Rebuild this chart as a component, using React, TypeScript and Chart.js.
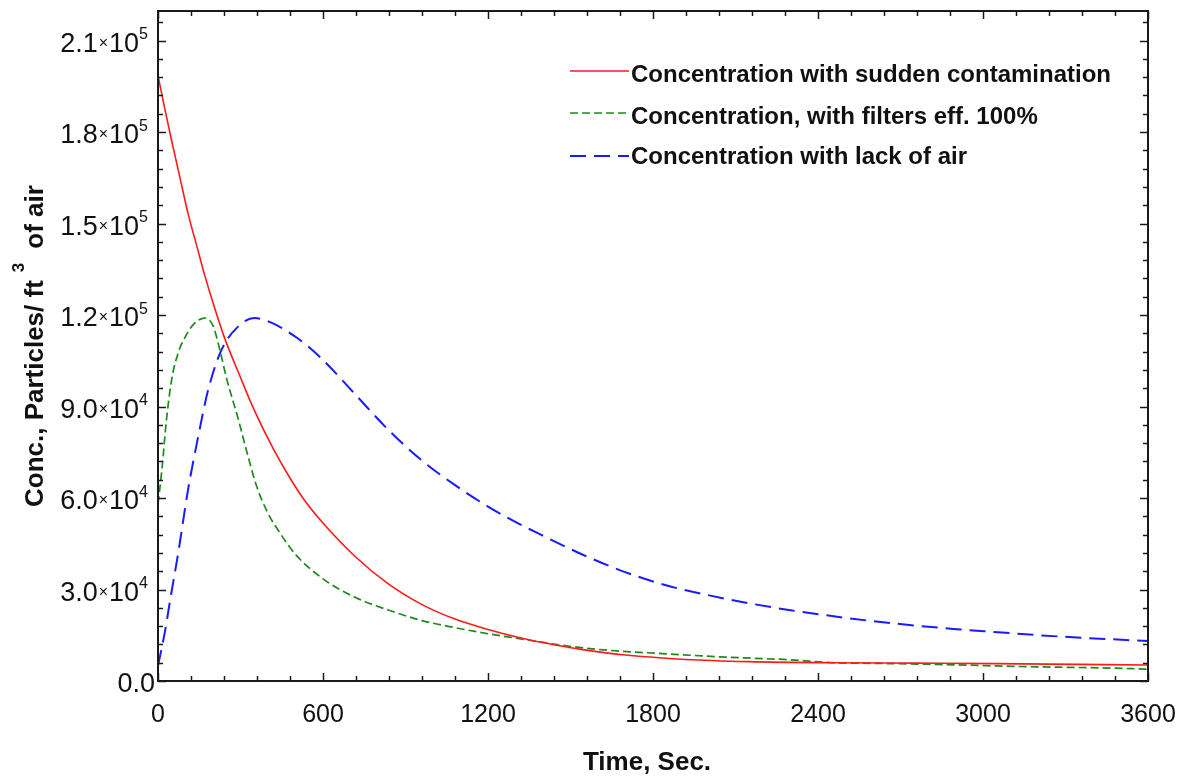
import { useEffect, useRef } from "react";
import { Chart, registerables } from "chart.js";

Chart.register(...registerables);

const seriesLabels = [
  "Concentration with sudden contamination",
  "Concentration, with filters eff. 100%",
  "Concentration with lack of air",
];

const redTime = [0, 25, 50, 80, 110, 140, 170, 200, 240, 300, 350, 420, 475, 530, 595, 715, 835, 955, 1080, 1200, 1320, 1440, 1545, 1700, 1920, 2150, 2450, 2750, 3050, 3350, 3600];
const redValues = [198500, 187500, 177000, 165000, 153000, 143000, 133000, 124000, 113000, 99500, 88800, 76000, 67300, 59600, 52300, 41000, 32000, 25300, 20300, 16900, 14100, 11900, 10300, 8500, 7050, 6350, 6000, 5850, 5700, 5450, 5250];

const greenTime = [0, 15, 30, 50, 75, 100, 130, 170, 200, 225, 250, 290, 325, 360, 400, 440, 500, 600, 720, 840, 960, 1080, 1200, 1320, 1470, 1620, 1850, 2070, 2300, 2450, 2600, 2900, 3130, 3430, 3600];
const greenValues = [58000, 70000, 85000, 99000, 108000, 113000, 117000, 119000, 116500, 108500, 99000, 86500, 74500, 63500, 55000, 49000, 41500, 33500, 27300, 23200, 19800, 17500, 15500, 13800, 11700, 10200, 8900, 7800, 6950, 6000, 5800, 5300, 4750, 4300, 3900];

const blueTime = [0, 24, 48, 73, 109, 145, 182, 230, 291, 351, 412, 509, 594, 715, 836, 957, 1079, 1200, 1320, 1394, 1545, 1696, 1847, 1998, 2149, 2300, 2451, 2601, 2752, 2903, 3054, 3205, 3356, 3600];
const blueValues = [5000, 15600, 28600, 41700, 62600, 79600, 95300, 108400, 116200, 119000, 117500, 112300, 105800, 94200, 82500, 72500, 64300, 57200, 51200, 47900, 41400, 35800, 31400, 28200, 25500, 23200, 21300, 19600, 18200, 17000, 16000, 15000, 14200, 13100];

const xTickValues = [0, 600, 1200, 1800, 2400, 3000, 3600];
const xTickLabels = ["0", "600", "1200", "1800", "2400", "3000", "3600"];
const yTickValues = [0, 30000, 60000, 90000, 120000, 150000, 180000, 210000];
const yTickMantissas = ["0.0", "3.0", "6.0", "9.0", "1.2", "1.5", "1.8", "2.1"];
const yTickExponents = ["", "4", "4", "4", "5", "5", "5", "5"];
const xMinorStep = 120;
const yMinorStep = 6000;
const xMax = 3600;
const yMax = 219700;

const xAxisTitle = "Time, Sec.";
const yAxisTitleMain = "Conc., Particles/ ft";
const yAxisTitleSup = "3";
const yAxisTitleEnd = "of air";

const FONT = '"Liberation Sans", Arial, sans-serif';

const toPoints = (t: number[], v: number[]) => t.map((tt, i) => ({ x: tt, y: v[i] }));

const decorPlugin = {
  id: "decor",
  afterDraw(chart: any) {
    const { ctx, chartArea: a } = chart;
    const xs = chart.scales.x;
    const ys = chart.scales.y;
    ctx.save();
    ctx.strokeStyle = "#1a1a1a";
    ctx.fillStyle = "#111";
    ctx.lineWidth = 2;
    ctx.strokeRect(a.left, a.top, a.right - a.left, a.bottom - a.top);
    ctx.lineWidth = 1.5;
    const seg = (x1: number, y1: number, x2: number, y2: number) => {
      ctx.beginPath();
      ctx.moveTo(x1, y1);
      ctx.lineTo(x2, y2);
      ctx.stroke();
    };
    for (let v = 0; v <= xMax; v += xMinorStep) {
      const px = Math.round(xs.getPixelForValue(v)) + 0.5;
      const len = v % 600 === 0 ? 8 : 5;
      seg(px, a.bottom, px, a.bottom - len);
      seg(px, a.top, px, a.top + len);
    }
    for (let v = 0; v <= yMax; v += yMinorStep) {
      const py = Math.round(ys.getPixelForValue(v)) + 0.5;
      const len = v % 30000 === 0 ? 8 : 5;
      seg(a.left, py, a.left + len, py);
      seg(a.right, py, a.right - len, py);
    }
    ctx.font = `25px ${FONT}`;
    ctx.textAlign = "center";
    ctx.textBaseline = "alphabetic";
    xTickValues.forEach((v, i) => {
      ctx.fillText(xTickLabels[i], xs.getPixelForValue(v), 722);
    });
    const mainFont = `27px ${FONT}`;
    const smallFont = `16px ${FONT}`;
    yTickValues.forEach((v, i) => {
      const py = ys.getPixelForValue(v);
      const m = yTickMantissas[i];
      const e = yTickExponents[i];
      ctx.textBaseline = "alphabetic";
      if (!e) {
        ctx.font = mainFont;
        ctx.textAlign = "right";
        ctx.fillText(m, 155, py + 11);
        return;
      }
      ctx.textAlign = "left";
      ctx.font = mainFont;
      const wm = ctx.measureText(m).width;
      const w10 = ctx.measureText("10").width;
      ctx.font = smallFont;
      const wt = ctx.measureText("\u00d7").width;
      const we = ctx.measureText(e).width;
      const right = 148;
      let cx = right - (wm + 1 + wt + 1 + w10 + we);
      ctx.font = mainFont;
      ctx.fillText(m, cx, py + 11);
      cx += wm + 1;
      ctx.font = smallFont;
      ctx.textBaseline = "middle";
      ctx.fillText("\u00d7", cx, py + 3);
      cx += wt + 1;
      ctx.textBaseline = "alphabetic";
      ctx.font = mainFont;
      ctx.fillText("10", cx, py + 11);
      cx += w10;
      ctx.font = smallFont;
      ctx.fillText(e, cx, py - 1.5);
    });
    ctx.font = `bold 26px ${FONT}`;
    ctx.textAlign = "center";
    ctx.textBaseline = "alphabetic";
    ctx.fillText(xAxisTitle, 647, 770);
    ctx.save();
    ctx.translate(43, 507);
    ctx.rotate(-Math.PI / 2);
    ctx.textAlign = "left";
    ctx.font = `bold 26px ${FONT}`;
    const w1 = ctx.measureText(yAxisTitleMain).width;
    ctx.fillText(yAxisTitleMain, 0, 0);
    ctx.font = `bold 17px ${FONT}`;
    const w3 = ctx.measureText(yAxisTitleSup).width;
    ctx.fillText(yAxisTitleSup, w1 + 8, -19);
    ctx.font = `bold 26px ${FONT}`;
    ctx.fillText(yAxisTitleEnd, w1 + 8 + w3 + 14, 0);
    ctx.restore();
    const rows = [
      { lineY: 71, baseY: 81.5 },
      { lineY: 113, baseY: 123.5 },
      { lineY: 156, baseY: 163.5 },
    ];
    chart.data.datasets.forEach((ds: any, i: number) => {
      const r = rows[i];
      ctx.save();
      ctx.strokeStyle = ds.borderColor;
      ctx.lineWidth = ds.borderWidth;
      ctx.setLineDash(ds.borderDash || []);
      ctx.beginPath();
      ctx.moveTo(570, r.lineY);
      ctx.lineTo(629, r.lineY);
      ctx.stroke();
      ctx.restore();
      ctx.font = `bold 24px ${FONT}`;
      ctx.textAlign = "left";
      ctx.textBaseline = "alphabetic";
      ctx.fillStyle = "#111";
      ctx.fillText(ds.label, 631, r.baseY);
    });
    ctx.restore();
  },
};

export default function App() {
  const ref = useRef<HTMLCanvasElement | null>(null);
  useEffect(() => {
    document.body.style.margin = "0";
    const canvas = ref.current;
    if (!canvas) return;
    const chart = new Chart(canvas, {
      type: "line",
      data: {
        datasets: [
          {
            label: seriesLabels[0],
            data: toPoints(redTime, redValues),
            borderColor: "#ff1a1a",
            borderWidth: 1.6,
            borderDash: [],
            pointRadius: 0,
            cubicInterpolationMode: "monotone",
            fill: false,
          },
          {
            label: seriesLabels[1],
            data: toPoints(greenTime, greenValues),
            borderColor: "#1e8a1e",
            borderWidth: 1.7,
            borderDash: [8, 4],
            pointRadius: 0,
            cubicInterpolationMode: "monotone",
            fill: false,
          },
          {
            label: seriesLabels[2],
            data: toPoints(blueTime, blueValues),
            borderColor: "#1a1aff",
            borderWidth: 2,
            borderDash: [16, 8],
            pointRadius: 0,
            cubicInterpolationMode: "monotone",
            fill: false,
          },
        ],
      } as any,
      options: {
        responsive: false,
        animation: false,
        devicePixelRatio: 1,
        layout: { padding: { top: 11, right: 37, left: 0, bottom: 0 } },
        plugins: { legend: { display: false }, tooltip: { enabled: false } },
        scales: {
          x: {
            type: "linear",
            min: 0,
            max: xMax,
            ticks: { display: false },
            grid: { display: false },
            border: { display: false },
            afterFit: (s: any) => {
              s.height = 96;
            },
          },
          y: {
            type: "linear",
            min: 0,
            max: yMax,
            ticks: { display: false },
            grid: { display: false },
            border: { display: false },
            afterFit: (s: any) => {
              s.width = 158;
            },
          },
        },
      } as any,
      plugins: [decorPlugin],
    });
    return () => chart.destroy();
  }, []);
  return (
    <div style={{ width: 1185, height: 777, background: "#fff" }}>
      <canvas ref={ref} width={1185} height={777} style={{ display: "block" }} />
    </div>
  );
}
